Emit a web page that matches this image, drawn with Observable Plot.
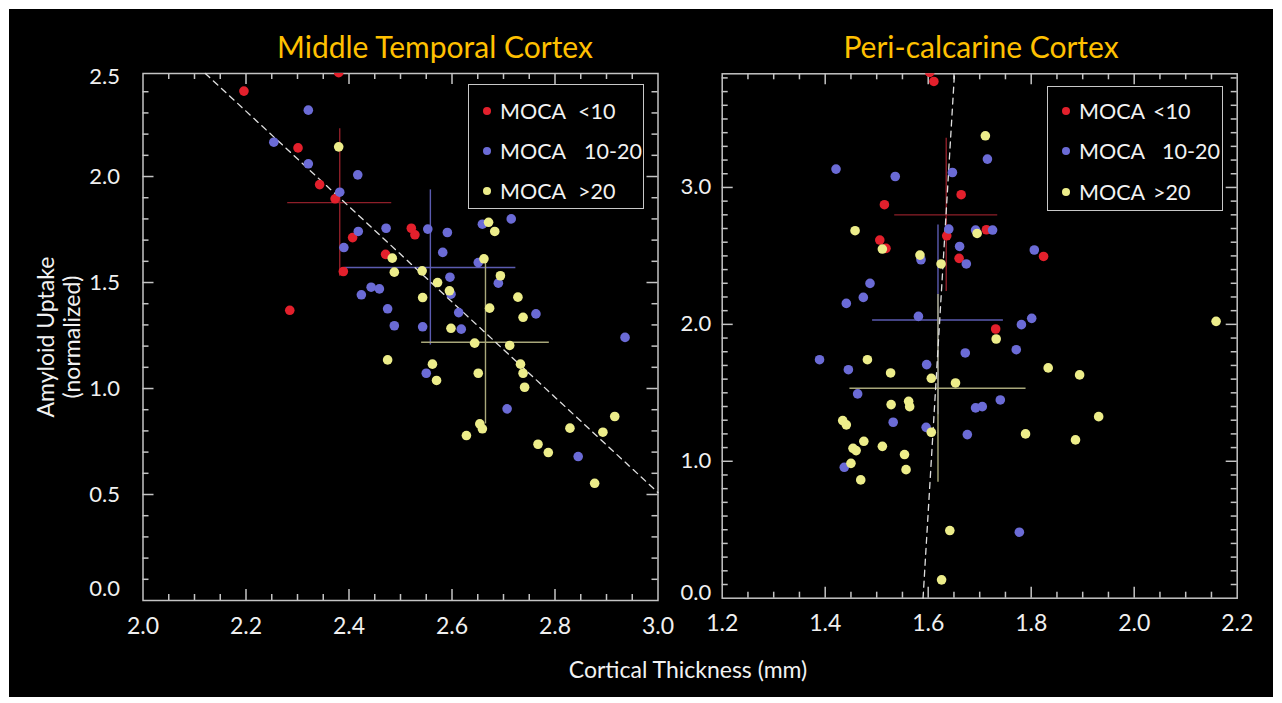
<!DOCTYPE html>
<html>
<head>
<meta charset="utf-8">
<script src="https://cdn.jsdelivr.net/npm/d3@7"></script>
<script src="https://cdn.jsdelivr.net/npm/@observablehq/plot@0.6"></script>
<style>
  html, body { margin: 0; padding: 0; background: #ffffff; }
  body { position: relative; width: 1282px; height: 703px; overflow: hidden; font-family: Lato, "Open Sans", sans-serif; }
  #stage { position: absolute; left: 9px; top: 9px; width: 1264px; height: 688px; background: #000; }
  .abs { position: absolute; }
  .title { color: #ffc000; font-size: 30px; text-align: center; line-height: 34px; white-space: nowrap; }
  .axlab { color: #f2f2f2; font-size: 23px; text-align: center; line-height: 26px; white-space: nowrap; }
  .legend { position: absolute; border: 1.5px solid #c8c8c8; box-sizing: border-box; background: #000; }
  .lgtext { position: absolute; color: #f2f2f2; font-size: 21.5px; line-height: 24px; white-space: nowrap; }
  .lgdot { position: absolute; width: 8px; height: 8px; border-radius: 50%; }
</style>
</head>
<body>
<div id="stage"></div>
<div id="root"></div>
<script>
// ---------------- DATA ----------------
const mocaGroups = ["<10", "10-20", ">20"];
const groupColors = ["#e3202c", "#6b6bd6", "#eded8a"];
const crossColors = ["#8e1f29", "#5b5bb0", "#a8a77a"];

// Middle Temporal Cortex: [thickness, amyloid]
const mtcLow = [
  [2.196, 2.403], [2.380, 2.49], [2.301, 2.135], [2.343, 1.962], [2.373, 1.895],
  [2.389, 1.552], [2.285, 1.369], [2.407, 1.712], [2.471, 1.633], [2.521, 1.756], [2.528, 1.725]
];
const mtcMid = [
  [2.321, 2.313], [2.254, 2.162], [2.321, 2.060], [2.417, 2.008], [2.382, 1.926],
  [2.418, 1.741], [2.472, 1.756], [2.390, 1.665], [2.553, 1.752], [2.591, 1.736],
  [2.582, 1.642], [2.659, 1.775], [2.715, 1.800], [2.651, 1.594], [2.596, 1.525],
  [2.690, 1.497], [2.598, 1.445], [2.443, 1.478], [2.459, 1.470], [2.424, 1.442],
  [2.475, 1.376], [2.488, 1.296], [2.543, 1.291], [2.613, 1.358], [2.618, 1.280],
  [2.763, 1.352], [2.936, 1.241], [2.550, 1.072], [2.707, 0.904], [2.845, 0.679]
];
const mtcHigh = [
  [2.380, 2.140], [2.484, 1.615], [2.488, 1.549], [2.542, 1.555], [2.572, 1.500],
  [2.595, 1.461], [2.543, 1.429], [2.671, 1.784], [2.683, 1.741], [2.662, 1.612],
  [2.694, 1.532], [2.728, 1.431], [2.673, 1.379], [2.738, 1.336], [2.598, 1.284],
  [2.644, 1.214], [2.712, 1.203], [2.475, 1.135], [2.562, 1.115], [2.570, 1.038],
  [2.651, 1.072], [2.733, 1.115], [2.738, 1.072], [2.741, 1.006], [2.654, 0.833],
  [2.659, 0.810], [2.628, 0.778], [2.767, 0.737], [2.787, 0.698], [2.829, 0.813],
  [2.893, 0.794], [2.916, 0.868], [2.877, 0.553]
];
const mtcMeans = [[2.382, 1.877], [2.558, 1.571], [2.665, 1.218]];
const mtcSdX = [0.101, 0.166, 0.124];
const mtcSdY = [0.348, 0.366, 0.385];
const mtcFit = [[2.121, 2.486], [3.0, 0.509]];

// Peri-calcarine Cortex
const pccLow = [
  [1.603, 3.84], [1.611, 3.774], [1.664, 2.947], [1.515, 2.874], [1.506, 2.616],
  [1.518, 2.555], [1.636, 2.647], [1.660, 2.482], [1.713, 2.691], [1.824, 2.496], [1.731, 1.966]
];
const pccMid = [
  [1.421, 3.134], [1.536, 3.080], [1.647, 3.109], [1.715, 3.207], [1.640, 2.696],
  [1.661, 2.569], [1.674, 2.441], [1.692, 2.689], [1.725, 2.689], [1.586, 2.472],
  [1.806, 2.543], [1.487, 2.299], [1.474, 2.197], [1.441, 2.153], [1.581, 2.058],
  [1.801, 2.044], [1.781, 1.998], [1.771, 1.815], [1.672, 1.791], [1.389, 1.742],
  [1.445, 1.669], [1.597, 1.706], [1.463, 1.492], [1.740, 1.448], [1.692, 1.390],
  [1.705, 1.399], [1.532, 1.285], [1.596, 1.248], [1.676, 1.195], [1.437, 0.956], [1.777, 0.482]
];
const pccHigh = [
  [1.458, 2.684], [1.511, 2.550], [1.584, 2.506], [1.625, 2.441], [1.711, 3.377],
  [1.695, 2.664], [1.732, 1.893], [2.159, 2.022], [1.833, 1.682], [1.894, 1.631],
  [1.653, 1.572], [1.931, 1.326], [1.789, 1.200], [1.886, 1.156], [1.642, 0.494],
  [1.626, 0.134], [1.482, 1.742], [1.527, 1.645], [1.606, 1.606], [1.528, 1.414],
  [1.562, 1.438], [1.564, 1.399], [1.434, 1.297], [1.441, 1.266], [1.606, 1.212],
  [1.475, 1.146], [1.511, 1.109], [1.454, 1.095], [1.460, 1.078], [1.554, 1.049],
  [1.450, 0.985], [1.557, 0.939], [1.469, 0.864]
];
const pccMeans = [[1.635, 2.800], [1.619, 2.032], [1.619, 1.533]];
const pccSdX = [0.100, 0.127, 0.171];
const pccSdY = [0.560, 0.693, 0.686];
const pccFit = [[1.590, 0.0], [1.651, 3.83]];

const mtcXTicks = [2.0, 2.2, 2.4, 2.6, 2.8, 3.0];
const mtcYTicks = [0.0, 0.5, 1.0, 1.5, 2.0, 2.5];
const pccXTicks = [1.2, 1.4, 1.6, 1.8, 2.0, 2.2];
const pccYTicks = [0.0, 1.0, 2.0, 3.0];

// ---------------- DRAW ----------------
const FRAME = "#c4c4c4";
const LABEL = "#f0f0f0";
const FONT = "Lato, 'Open Sans', sans-serif";

function minorRange(lo, hi, step) {
  const a = Math.floor(lo / step + 1e-6) + 1, b = Math.ceil(hi / step - 1e-6) - 1;
  return d3.range(a, b + 1).map(k => +(k * step).toFixed(4));
}
function isMajor(v, step) { return Math.abs(v / step - Math.round(v / step)) < 1e-6; }

function panel(cfg) {
  const [x0, x1] = cfg.xDomain, [y0, y1] = cfg.yDomain;
  const xt = minorRange(x0, x1, cfg.xMinor);
  const yt = minorRange(y0, y1, cfg.yMinor);
  const xMaj = xt.filter(v => isMajor(v, cfg.xMajor)), xMin = xt.filter(v => !isMajor(v, cfg.xMajor));
  const yMaj = yt.filter(v => isMajor(v, cfg.yMajor)), yMin = yt.filter(v => !isMajor(v, cfg.yMajor));
  const LMAJ = 11, LMIN = 6;
  const tickStyle = {stroke: FRAME, strokeWidth: 1.5};
  const sums = cfg.means.map(([x, y], i) => ({
    g: i, x, y, x1: x - cfg.sdX[i], x2: x + cfg.sdX[i], y1: y - cfg.sdY[i], y2: y + cfg.sdY[i]
  }));
  const marks = [
    Plot.frame({stroke: FRAME, strokeWidth: 1.5}),
    Plot.ruleX(xMaj, {x: d => d, y1: y0, y2: y0, insetBottom: LMAJ, ...tickStyle}),
    Plot.ruleX(xMin, {x: d => d, y1: y0, y2: y0, insetBottom: LMIN, ...tickStyle}),
    Plot.ruleX(xMaj, {x: d => d, y1: y1, y2: y1, insetTop: LMAJ, ...tickStyle}),
    Plot.ruleX(xMin, {x: d => d, y1: y1, y2: y1, insetTop: LMIN, ...tickStyle}),
    Plot.ruleY(yMaj, {y: d => d, x1: x0, x2: x0, insetLeft: LMAJ, ...tickStyle}),
    Plot.ruleY(yMin, {y: d => d, x1: x0, x2: x0, insetLeft: LMIN, ...tickStyle}),
    Plot.ruleY(yMaj, {y: d => d, x1: x1, x2: x1, insetRight: LMAJ, ...tickStyle}),
    Plot.ruleY(yMin, {y: d => d, x1: x1, x2: x1, insetRight: LMIN, ...tickStyle}),
    Plot.text(cfg.xTicks, {x: d => d, y: y0, dy: cfg.xLabelDy, text: d => d.toFixed(1), fill: LABEL, fontSize: 23, lineAnchor: "middle"}),
    Plot.text(cfg.yTicks, {x: x0, y: d => Math.max(cfg.yClamp[0], Math.min(cfg.yClamp[1], d)), dx: -cfg.yLabelDx, text: d => d.toFixed(1), fill: LABEL, fontSize: 22, textAnchor: "end"}),
  ];
  sums.forEach(s => {
    marks.push(Plot.ruleY([s], {y: "y", x1: "x1", x2: "x2", stroke: crossColors[s.g], strokeWidth: 1.4}));
    marks.push(Plot.ruleX([s], {x: "x", y1: "y1", y2: "y2", stroke: crossColors[s.g], strokeWidth: 1.4}));
  });
  marks.push(Plot.line(cfg.fit, {x: d => d[0], y: d => d[1], stroke: "#e0e0e0", strokeWidth: 1.3, strokeDasharray: "6,5"}));
  cfg.groups.forEach((pts, i) => {
    marks.push(Plot.dot(pts, {x: d => d[0], y: d => d[1], r: 4.8, fill: groupColors[i], stroke: "none", clip: true}));
  });
  const svg = Plot.plot({
    width: cfg.width, height: cfg.height,
    marginLeft: cfg.mL, marginRight: cfg.mR, marginTop: cfg.mT, marginBottom: cfg.mB,
    x: {domain: cfg.xDomain, axis: null},
    y: {domain: cfg.yDomain, axis: null},
    style: {background: "transparent", overflow: "visible", fontFamily: FONT, fontSize: "22px", maxWidth: "none"},
    marks
  });
  const holder = document.createElement("div");
  holder.className = "abs";
  holder.style.left = cfg.left + "px";
  holder.style.top = "0px";
  holder.style.width = cfg.width + "px";
  holder.appendChild(svg);
  document.getElementById("root").appendChild(holder);
}

panel({
  left: 0, width: 690, height: 660, mL: 142.5, mR: 32.5, mT: 73, mB: 60,
  xDomain: [2.0, 3.0], yDomain: [0, 2.486],
  xMinor: 0.05, xMajor: 0.2, yMinor: 0.1, yMajor: 0.5,
  xTicks: mtcXTicks, yTicks: mtcYTicks, xLabelDy: 26, yLabelDx: 23, yClamp: [0.055, 2.47],
  groups: [mtcLow, mtcMid, mtcHigh], means: mtcMeans, sdX: mtcSdX, sdY: mtcSdY, fit: mtcFit
});
panel({
  left: 690, width: 592, height: 660, mL: 31.7, mR: 45.3, mT: 73.3, mB: 62.3,
  xDomain: [1.2, 2.2], yDomain: [0, 3.83],
  xMinor: 0.05, xMajor: 0.2, yMinor: 0.1, yMajor: 1.0,
  xTicks: pccXTicks, yTicks: pccYTicks, xLabelDy: 25, yLabelDx: 11, yClamp: [0.035, 3.8],
  groups: [pccLow, pccMid, pccHigh], means: pccMeans, sdX: pccSdX, sdY: pccSdY, fit: pccFit
});

// ---------------- TEXT ----------------
const root = document.getElementById("root");
function addDiv(cls, html, css) {
  const d = document.createElement("div");
  d.className = cls;
  d.innerHTML = html;
  Object.assign(d.style, css);
  root.appendChild(d);
  return d;
}
addDiv("abs title", "Middle Temporal Cortex", {left: "235px", width: "400px", top: "29px"});
addDiv("abs title", "Peri-calcarine Cortex", {left: "781px", width: "400px", top: "29px"});
addDiv("abs axlab", "Cortical Thickness (mm)", {left: "488px", width: "400px", top: "656px"});
addDiv("abs axlab", "Amyloid Uptake<br>(normalized)", {left: "-42px", width: "200px", top: "311px", transform: "rotate(-90deg)", transformOrigin: "100px 26px"});

function legend(box, dotX, textX, suffixX, rows) {
  addDiv("legend", "", {left: box[0] + "px", top: box[1] + "px", width: box[2] + "px", height: box[3] + "px"});
  mocaGroups.forEach((g, i) => {
    addDiv("lgdot", "", {left: (dotX - 4) + "px", top: (rows[i] - 4) + "px", background: groupColors[i]});
    addDiv("lgtext", "MOCA", {left: textX + "px", top: (rows[i] - 12) + "px"});
    addDiv("lgtext", g, {left: suffixX[i] + "px", top: (rows[i] - 12) + "px"});
  });
}
legend([468, 84, 176, 125], 487, 500, [578, 584, 578], [111, 151, 191]);
legend([1047, 86, 176, 125], 1066, 1079, [1153, 1162, 1153], [111, 151, 192]);
</script>
</body>
</html>
